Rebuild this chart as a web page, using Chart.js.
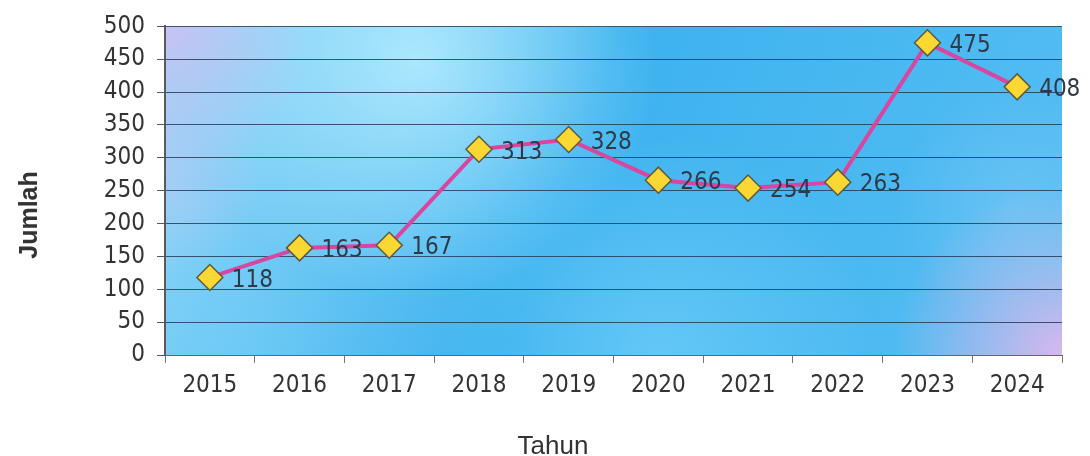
<!DOCTYPE html>
<html>
<head>
<meta charset="utf-8">
<script src="https://cdn.jsdelivr.net/npm/chart.js@4.4.1/dist/chart.umd.min.js"></script>
<style>
  html, body { margin: 0; padding: 0; background: #ffffff; }
  #wrap { width: 1090px; height: 456px; position: relative; }
</style>
</head>
<body>
<div id="wrap"><canvas id="chart"></canvas></div>
<script>
// ── Data ──────────────────────────────────────────────────────────────
const years = ['2015', '2016', '2017', '2018', '2019', '2020', '2021', '2022', '2023', '2024'];
const jumlah = [118, 163, 167, 313, 328, 266, 254, 263, 475, 408];
const yTicks = [0, 50, 100, 150, 200, 250, 300, 350, 400, 450, 500];
const xTitle = 'Tahun';
const yTitle = 'Jumlah';

const tickFont = "'DejaVu Sans Condensed', 'DejaVu Sans', sans-serif";
const titleFont = "'Liberation Sans', Arial, sans-serif";

// ── Blue "watercolour" fill behind the plot area ──────────────────────
function blob(ctx, x, y, r, color) {
  const g = ctx.createRadialGradient(x, y, 0, x, y, r);
  g.addColorStop(0, color);
  g.addColorStop(1, color.replace(/[\d.]+\)$/, '0)'));
  ctx.fillStyle = g;
  ctx.fillRect(x - r, y - r, r * 2, r * 2);
}

const plotBackground = {
  id: 'plotBackground',
  beforeDraw(chart) {
    const { ctx, chartArea: a } = chart;
    const w = a.width, h = a.height;
    ctx.save();
    ctx.beginPath();
    ctx.rect(a.left, a.top, w, h);
    ctx.clip();
    const base = ctx.createLinearGradient(a.left, a.top, a.right, a.bottom);
    base.addColorStop(0, '#92d8f8');
    base.addColorStop(0.45, '#3db2ef');
    base.addColorStop(1, '#55bef3');
    ctx.fillStyle = base;
    ctx.fillRect(a.left, a.top, w, h);
    blob(ctx, a.left + 0.28 * w, a.top + 0.1 * h, 240, 'rgba(185,238,255,0.85)');
    blob(ctx, a.left, a.top, 150, 'rgba(205,192,242,0.9)');
    blob(ctx, a.left, a.top + 0.45 * h, 100, 'rgba(190,200,245,0.55)');
    blob(ctx, a.left + 0.55 * w, a.bottom, 220, 'rgba(120,212,250,0.6)');
    blob(ctx, a.left + 0.05 * w, a.bottom, 140, 'rgba(110,205,248,0.5)');
    blob(ctx, a.right, a.bottom, 170, 'rgba(214,184,236,1)');
    blob(ctx, a.right - 0.05 * w, a.top + 0.55 * h, 120, 'rgba(150,205,245,0.35)');
    ctx.restore();
  }
};

// ── Value labels to the right of every marker, plus the axis titles ───
const valueLabels = {
  id: 'valueLabels',
  afterDatasetsDraw(chart) {
    const { ctx } = chart;
    const meta = chart.getDatasetMeta(0);
    ctx.save();
    ctx.font = `24px ${tickFont}`;
    ctx.fillStyle = '#2f3a48';
    ctx.textAlign = 'left';
    ctx.textBaseline = 'middle';
    meta.data.forEach((pt, i) => {
      ctx.fillText(String(jumlah[i]), pt.x + 22, pt.y + 3);
    });
    ctx.restore();
  },
  afterDraw(chart) {
    const { ctx } = chart;
    ctx.save();
    ctx.fillStyle = '#333333';
    ctx.textAlign = 'center';
    ctx.textBaseline = 'middle';
    ctx.font = `26px ${titleFont}`;
    ctx.fillText(xTitle, 553, 447);
    ctx.translate(30, 215);
    ctx.rotate(-Math.PI / 2);
    ctx.font = `bold 25px ${titleFont}`;
    ctx.fillText(yTitle, 0, 0);
    ctx.restore();
  }
};

new Chart(document.getElementById('chart'), {
  type: 'line',
  data: {
    labels: years,
    datasets: [{
      data: jumlah,
      borderColor: '#d9459f',
      borderWidth: 4,
      tension: 0,
      pointStyle: 'rectRot',
      pointRadius: 13,
      pointHoverRadius: 13,
      pointBackgroundColor: '#fbd733',
      pointBorderColor: '#5d5a3e',
      pointBorderWidth: 1.5,
      clip: false,
    }]
  },
  options: {
    responsive: true,
    maintainAspectRatio: false,
    animation: false,
    events: [],
    layout: { padding: { left: 0, top: 26, right: 28, bottom: 0 } },
    plugins: { legend: { display: false }, tooltip: { enabled: false } },
    scales: {
      x: {
        offset: true,
        grid: { offset: true, drawOnChartArea: false, drawTicks: true, tickLength: 8, color: '#777777' },
        border: { color: '#666666', width: 1 },
        ticks: { color: '#333333', font: { family: tickFont, size: 24 }, padding: 8, maxRotation: 0 },
        afterFit(scale) { scale.height = 101; }
      },
      y: {
        min: 0,
        max: 500,
        afterBuildTicks(scale) { scale.ticks = yTicks.map(v => ({ value: v })); },
        grid: { color: 'rgba(40,60,85,0.85)', lineWidth: 1, tickLength: 8 },
        border: { color: '#5a5a5a', width: 2 },
        ticks: { color: '#333333', font: { family: tickFont, size: 24 }, padding: 12 },
        afterFit(scale) { scale.width = 165; }
      }
    }
  },
  plugins: [plotBackground, valueLabels]
});
</script>
</body>
</html>
